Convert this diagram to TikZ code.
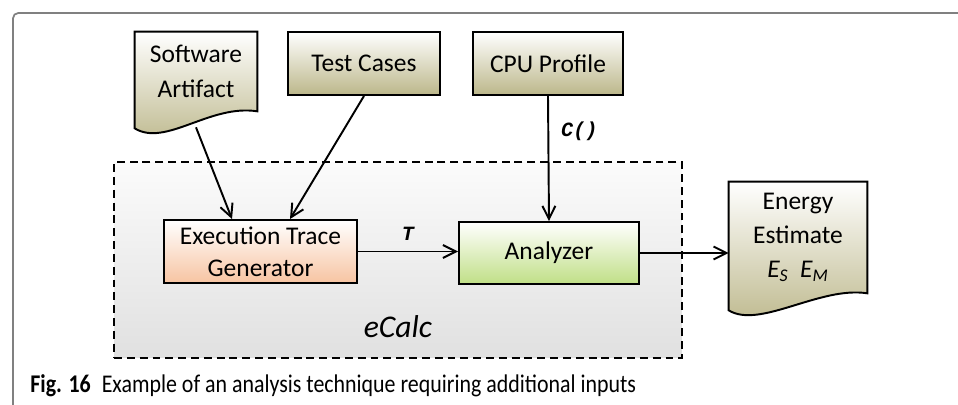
\documentclass[tikz,border=0pt]{standalone}
\usepackage{fontspec}
\setmainfont{Carlito}
\newfontfamily\codefont{Liberation Mono}
\usetikzlibrary{arrows.meta,backgrounds,calc}

\definecolor{docolive}{RGB}{188,183,138}
\definecolor{genpeach}{RGB}{247,196,162}
\definecolor{angreen}{RGB}{192,223,134}
\definecolor{framegray}{RGB}{128,128,128}

% document symbol with a wavy lower edge, drawn round a named node
\newcommand{\docoutline}[1]{%
  \shade[top color=white, bottom color=docolive, draw=black, line width=1.1pt]
    (#1.north west) -- (#1.north east) -- (#1.south east)
    .. controls ([xshift=-0.95cm,yshift=0.15cm]#1.south east)
    and ([xshift=0.62cm,yshift=-0.72cm]#1.south west)
    .. ([yshift=-0.34cm]#1.south west) -- cycle;}

\begin{document}
\begin{tikzpicture}[x=0.02cm, y=-0.02cm,
        box/.style={rectangle, draw, line width=1.1pt, align=center, font=\fontsize{14.5}{18}\selectfont},
        srcbox/.style={box, top color=white, bottom color=docolive},
        docbox/.style={rectangle, align=center, inner sep=0pt, font=\fontsize{14.5}{18}\selectfont},
        container/.style={rectangle, draw, line width=1.1pt, dash pattern=on 4.5pt off 2.8pt,
            top color=gray!3, bottom color=gray!24, minimum width=11.36cm, minimum height=3.92cm},
        flow/.style={-{Straight Barb[length=0.26cm, width=0.26cm]}, line width=1.1pt},
        varlabel/.style={font=\codefont\bfseries\itshape\fontsize{11.5}{13}\selectfont, inner sep=0pt},
    ]
    \useasboundingbox (0,0) rectangle (958,405);
    \draw[framegray, line width=1pt, rounded corners=3pt] (13,405) -- (13,13) -- (958,13);

    % eCalc
    \node[container] (ecalc) at (398,260) {};
    \node[font=\itshape\fontsize{18}{21}\selectfont] (ecalclabel) at (398,327) {eCalc};

    % inputs
    \node[docbox, minimum width=2.44cm, minimum height=1.58cm] (artifact) at (196,71.5) {Software\\[2.2pt]Artifact};
    \node[srcbox, minimum width=3.04cm, minimum height=1.26cm] (cases) at (364,63.5) {Test Cases};
    \node[srcbox, minimum width=3.0cm, minimum height=1.26cm] (cpu) at (548,63.5) {CPU Profile};

    % inside eCalc
    \node[box, top color=white, bottom color=genpeach, minimum width=3.86cm, minimum height=1.26cm] (tracegen) at (260.5,251.5) {Execution Trace\\Generator};
    \node[box, top color=white, bottom color=angreen, minimum width=3.6cm, minimum height=1.24cm] (analyzer) at (549,253) {Analyzer};

    % output
    \node[docbox, minimum width=2.76cm, minimum height=2.22cm] (energy) at (798,237.5) {Energy\\[1.5pt]Estimate\\[1.5pt]\textit{E\textsubscript{S}~~E\textsubscript{M}}};

    \begin{pgfonlayer}{background}
        \docoutline{artifact}
        \docoutline{energy}
    \end{pgfonlayer}

    \draw[flow] ([yshift=-0.32cm]artifact.south) -- ([xshift=-0.57cm]tracegen.north);
    \draw[flow] (cases.south) -- ([xshift=0.59cm]tracegen.north);
    \draw[flow] (cpu.south) -- node[varlabel, pos=0.28, anchor=west, xshift=0.24cm] {C()} (analyzer.north);
    \draw[flow] (tracegen.east) -- node[varlabel, above=0.2cm] {T} (tracegen.east -| analyzer.west);
    \draw[flow] (analyzer.east) -- (analyzer.east -| energy.west);

    \node[anchor=base west, inner sep=0pt, font=\fontsize{14.5}{17}\selectfont] (caption) at (30,393)
        {\scalebox{0.86}[1]{\textbf{Fig. 16}\hspace{0.5em}Example of an analysis technique requiring additional inputs}};
\end{tikzpicture}
\end{document}
